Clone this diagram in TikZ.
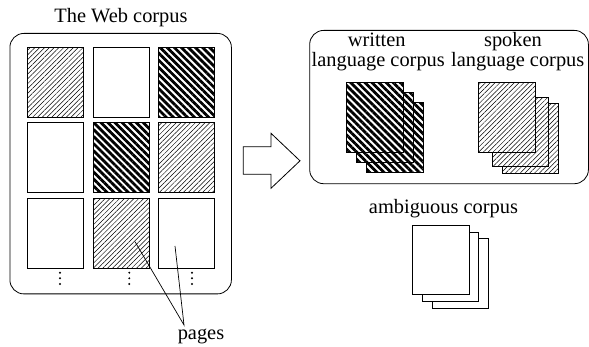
\documentclass[tikz,border=0pt]{standalone}
\usepackage{fontspec}
\setmainfont{Liberation Serif}
\usetikzlibrary{patterns.meta}
\begin{document}
\begin{tikzpicture}[x=1pt,y=-1pt,
  every node/.style={font=\fontsize{20.4}{24}\selectfont, inner sep=0pt},
  pg/.style={draw, line width=0.8pt, fill=white, minimum width=56pt, minimum height=70pt, anchor=north west, inner sep=0pt},
  lighthatch/.style={postaction={pattern={Lines[angle=45,distance=3.4pt,line width=0.5pt]}}},
  darkhatch/.style={postaction={pattern={Lines[angle=-45,distance=5pt,line width=2.8pt]}}},
  box/.style={draw, line width=0.8pt, rounded corners=14pt, anchor=north west, inner sep=0pt},
  lbl/.style={anchor=base},
  lead/.style={line width=0.7pt},
  blockarrow/.style={draw, line width=0.8pt},
]
\useasboundingbox (0,0) rectangle (589,347);

% The Web corpus
\node[lbl] (webtitle) at (121,23) {The Web corpus};
\node[box, minimum width=221.5pt, minimum height=260.5pt] (web) at (9.5,33) {};
\node[pg,lighthatch] (p11) at (26.7,46.7) {};
\node[pg] (p12) at (92.7,46.7) {};
\node[pg,darkhatch] (p13) at (158.3,46.7) {};
\node[pg] (p21) at (26.7,122.5) {};
\node[pg,darkhatch] (p22) at (92.7,122.5) {};
\node[pg,lighthatch] (p23) at (158.3,122.5) {};
\node[pg] (p31) at (26.7,198.3) {};
\node[pg,lighthatch] (p32) at (92.7,198.3) {};
\node[pg] (p33) at (158.3,198.3) {};
\foreach \x in {60,129.3,192}
  \foreach \y in {272.7,278.3,284}
    \fill (\x,\y) circle (1.1pt);

% pages label
\node[lbl] (pages) at (201,340) {pages};
\coordinate (apex) at (184,325);
\coordinate (t1) at (135,241.7);
\coordinate (t2) at (175,246);
\draw[lead] (t1) -- (apex) -- (t2);

% block arrow
\draw[blockarrow] (243.3,146.7) -- (271,146.7) -- (271,133.3) -- (300,160.8)
  -- (271,188.3) -- (271,174.3) -- (243.3,174.3) -- cycle;

% output box
\node[box, minimum width=278.7pt, minimum height=153.3pt] (out) at (309.3,30) {};
\node[lbl] (wt) at (376.7,46.5) {written};
\node[lbl] (wl) at (378.3,67) {language corpus};
\node[lbl] (st) at (513,46.5) {spoken};
\node[lbl] (sl) at (517.8,67) {language corpus};

\node[pg, minimum width=56.7pt, darkhatch] (w3) at (366,102.3) {};
\node[pg, minimum width=56.7pt, darkhatch] (w2) at (356,92.3) {};
\node[pg, minimum width=56.7pt, darkhatch] (w1) at (346,82.3) {};

\node[pg, minimum width=56.7pt, minimum height=69.4pt, lighthatch] (s3) at (501.7,103.3) {};
\node[pg, minimum width=56.7pt, minimum height=69pt, lighthatch] (s2) at (491.7,96.7) {};
\node[pg, minimum width=56.7pt, lighthatch] (s1) at (478.3,82.3) {};

% ambiguous corpus
\node[lbl] (amb) at (443.5,214) {ambiguous corpus};
\node[pg, minimum height=69.7pt] (a3) at (432.3,238) {};
\node[pg, minimum height=69.3pt] (a2) at (422.3,231.7) {};
\node[pg, minimum width=56.7pt, minimum height=69.3pt] (a1) at (412.3,225) {};
\end{tikzpicture}
\end{document}
